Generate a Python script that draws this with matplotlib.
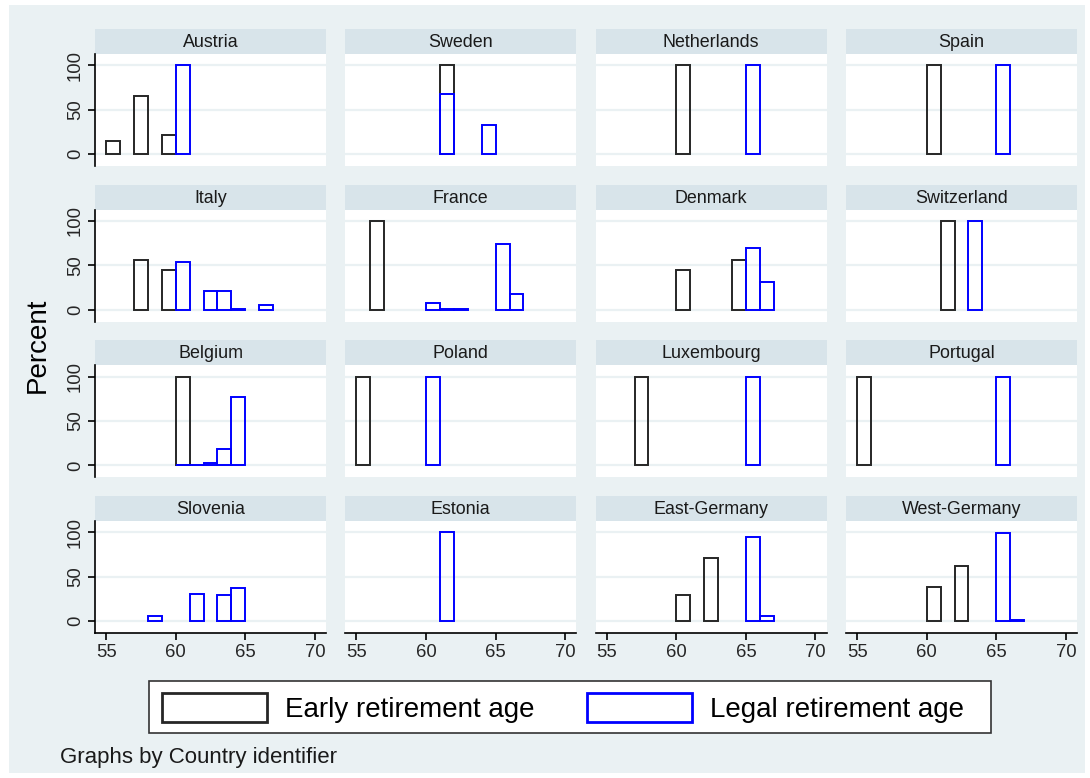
import matplotlib
matplotlib.use("Agg")
import matplotlib.pyplot as plt
from matplotlib.patches import Rectangle

plt.rcParams['font.family'] = ['Liberation Sans', 'DejaVu Sans']

# Country panels, in row-major order
countries = ["Austria", "Sweden", "Netherlands", "Spain",
             "Italy", "France", "Denmark", "Switzerland",
             "Belgium", "Poland", "Luxembourg", "Portugal",
             "Slovenia", "Estonia", "East-Germany", "West-Germany"]

# Early retirement age: lower bin edge (years) and percent per bin
early_ages = [[55, 57, 59], [61], [60], [60],
              [57, 59], [56], [60, 64], [61],
              [60], [55], [57], [55],
              [], [], [60, 62], [60, 62]]
early_pct = [[15, 65, 21], [100], [100], [100],
             [56, 45], [100], [45, 56], [100],
             [100], [100], [100], [100],
             [], [], [29.5, 71], [38.5, 61.5]]

# Legal retirement age: lower bin edge (years) and percent per bin
legal_ages = [[60], [61, 64], [65], [65],
              [60, 62, 63, 64, 66], [60, 61, 62, 65, 66], [65, 66], [63],
              [60, 61, 62, 63, 64], [60], [65], [65],
              [58, 61, 63, 64], [61], [65, 66], [65, 66]]
legal_pct = [[100], [68, 33], [100], [100],
             [54, 21, 21, 1.2, 4.8], [8, 0.4, 0.4, 74, 18], [69, 31], [100],
             [1, 1, 2.5, 18, 77], [100], [100], [100],
             [6, 30.5, 29.5, 37], [100], [95, 6], [98.5, 1]]

x_ticks = [55, 60, 65, 70]
y_ticks = [0, 50, 100]
legend_labels = ["Early retirement age", "Legal retirement age"]
y_title = "Percent"
note = "Graphs by Country identifier"

BG = "#eaf1f3"
STRIP = "#d8e4ea"
GRID = "#eaf1f3"
EARLY_C = "#262626"
LEGAL_C = "#0000ff"

W, H = 1090, 778
fig = plt.figure(figsize=(W / 100, H / 100), dpi=100)
fig.patch.set_facecolor("white")


def fx(px):
    return px / W


def fy(py):
    return 1 - py / H


# Graph region background, inside a thin white margin
fig.patches.append(Rectangle((fx(9), fy(773)), fx(1085 - 9), (773 - 5) / H,
                             transform=fig.transFigure, facecolor=BG,
                             edgecolor="none", zorder=-10))

col_left = [95, 345.3, 595.6, 846]
row_top = [54, 209.7, 365.4, 521]
pw, ph, sh = 231, 112, 25

for i, name in enumerate(countries):
    r, c = divmod(i, 4)
    left, top = col_left[c], row_top[r]
    ax = fig.add_axes([fx(left), fy(top + ph), pw / W, ph / H])
    ax.set_zorder(2)
    ax.set_facecolor("white")
    ax.set_xlim(54.2, 70.8)
    ax.set_ylim(-13.5, 112.5)
    for y in y_ticks:
        ax.axhline(y, color=GRID, lw=1.6, zorder=0.5)
    ax.bar(early_ages[i], early_pct[i], width=1, align="edge", fill=False,
           edgecolor=EARLY_C, linewidth=1.4, zorder=2)
    ax.bar(legal_ages[i], legal_pct[i], width=1, align="edge", fill=False,
           edgecolor=LEGAL_C, linewidth=1.4, zorder=3)

    for s in ("top", "right"):
        ax.spines[s].set_visible(False)
    ax.spines["left"].set_visible(c == 0)
    ax.spines["bottom"].set_visible(r == 3)
    for s in ("left", "bottom"):
        ax.spines[s].set_linewidth(1.2)
        ax.spines[s].set_color("black")

    ax.set_yticks(y_ticks)
    ax.set_xticks(x_ticks)
    ax.tick_params(axis="y", left=(c == 0), labelleft=(c == 0), length=5,
                   width=1.2, pad=3, labelsize=13.3, labelrotation=90,
                   labelcolor="#262626")
    ax.tick_params(axis="x", bottom=(r == 3), labelbottom=(r == 3), length=5,
                   width=1.2, pad=3, labelsize=13.3, labelcolor="#262626")
    for lab in ax.get_yticklabels():
        lab.set_va("center")

    # Panel strip with the country name
    fig.patches.append(Rectangle((fx(left), fy(top)), pw / W, sh / H,
                                 transform=fig.transFigure, facecolor=STRIP,
                                 edgecolor="none", zorder=1))
    fig.text(fx(left + pw / 2), fy(top - sh / 2 + 1), name, ha="center",
             va="center", fontsize=12.9, color="#1a1a1a")

fig.text(fx(38), fy(345), y_title, rotation=90, ha="center", va="center",
         fontsize=20, color="black")

# Legend box
fig.patches.append(Rectangle((fx(149), fy(733)), fx(991 - 149), (733 - 681) / H,
                             transform=fig.transFigure, facecolor="white",
                             edgecolor="#333333", linewidth=1.2, zorder=2))
for x0, label, col in [(162, legend_labels[0], EARLY_C),
                       (587, legend_labels[1], LEGAL_C)]:
    fig.patches.append(Rectangle((fx(x0), fy(722)), fx(105), 29 / H,
                                 transform=fig.transFigure, facecolor="white",
                                 edgecolor=col, linewidth=2, zorder=3))
    fig.text(fx(x0 + 123), fy(710), label, ha="left", va="center",
             fontsize=20, color="black", zorder=4)

fig.text(fx(60), fy(758), note, ha="left", va="center", fontsize=16,
         color="#1a1a1a")

fig.savefig("out.png", dpi=100, facecolor=fig.get_facecolor())
